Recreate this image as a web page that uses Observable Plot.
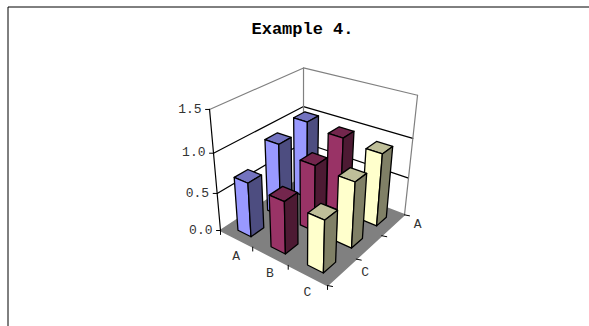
<!DOCTYPE html>
<html><head><meta charset="utf-8">
<script src="https://cdn.jsdelivr.net/npm/d3@7"></script>
<script src="https://cdn.jsdelivr.net/npm/@observablehq/plot@0.6"></script>
<style>html,body{margin:0;padding:0;background:#fff}svg{display:block}</style>
</head><body><div id="chart"></div>
<script>
const title = "Example 4.";
const series = ["A","B","C"];
const rows = ["A","B","C"];
const valuesA = [1.03,0.95,0.70];
const valuesB = [0.97,0.85,0.665];
const valuesC = [0.93,0.83,0.65];
const levels = [0,0.5,1,1.5];
const faceColors = [
  {front:"#9999ff",top:"#7373bf",side:"#4d4d80"},
  {front:"#993366",top:"#73264d",side:"#4d1a33"},
  {front:"#ffffcc",top:"#bfbf99",side:"#808066"}
];
const table = [valuesA,valuesB,valuesC];
const maxH = 1.5;

// perspective camera: (u along the front-left edge, v in depth, h value)
const cam = {a:61.7,b:133,c:220,d:15.5,e:-25.5,f:230,g:-0.1386,i:0.1651,p:-23.6,q:-89.2,r:-0.078};
function P(u,v,h,ox=0,oy=0){
  const w = cam.g*u+cam.i*v+1+cam.r*h;
  return {x:(cam.a*u+cam.b*v+cam.c+cam.p*h)/w+ox, y:(cam.d*u+cam.e*v+cam.f+cam.q*h)/w+oy};
}
function poly(id,fill,pts){return pts.map(p=>({...P(...p),id,fill}));}

const walls = [
  ...poly("floor","#808080",[[0,0,0],[1,0,0],[1,1,0],[0,1,0]]),
];
const grid = [];
levels.forEach((h,k)=>{
  const col = h===maxH ? "#808080" : "#000000";
  if(h===0) return;
  [[0,0,h],[0,1,h],[1,1,h]].forEach(p=>grid.push({...P(...p),id:"g"+k,col}));
});
[[0,1],[1,1]].forEach((c,k)=>{
  [[c[0],c[1],0],[c[0],c[1],maxH]].forEach(p=>grid.push({...P(...p),id:"e"+k,col:"#808080"}));
});
[[0,0,0],[0,0,maxH]].forEach(p=>grid.push({...P(...p),id:"axis",col:"#000000"}));

const ticks = [];
levels.forEach((h,k)=>{ticks.push({...P(0,0,h),id:"tl"+k},{...P(0,0,h,-4,0),id:"tl"+k});});
[0,1/3,2/3,1].forEach((t,k)=>{
  ticks.push({...P(t,0,0),id:"tb"+k},{...P(t,0,0,0,4),id:"tb"+k});
  ticks.push({...P(1,t,0),id:"tr"+k},{...P(1,t,0,5,1),id:"tr"+k});
});

const nearU = 0.072, nearV = 0.085, sizeU = 0.135, sizeV = 0.14;
const faces = [];
for(let r=0;r<3;r++){            // far row first
  const vc = 1-(r+0.5)/3;
  for(let s=0;s<3;s++){
    const uc = (s+0.5)/3, h = table[s][r], c = faceColors[s];
    const u1=uc+nearU,u0=u1-sizeU,v0=vc-nearV,v1=v0+sizeV, id=`b${r}${s}`;
    faces.push(...poly(id+"t",c.top,[[u0,v0,h],[u1,v0,h],[u1,v1,h],[u0,v1,h]]));
    faces.push(...poly(id+"f",c.front,[[u0,v0,0],[u1,v0,0],[u1,v0,h],[u0,v0,h]]));
    faces.push(...poly(id+"s",c.side,[[u1,v0,0],[u1,v1,0],[u1,v1,h],[u1,v0,h]]));
  }
}

const valueLabels = levels.map(h=>({...P(0,0,h,-8,-1),t:h.toFixed(1)}));
const serieLabels = series.map((s,k)=>({...P((k+0.5)/3,0,0,0,17),t:s}));
const rowLabels = [{t:rows[0],v:0.97},{t:rows[2],v:0.26}].map(d=>({...P(1,d.v,0,15,7),t:d.t}));
const frame = [{x:7.5,y:326},{x:7.5,y:6.5},{x:589,y:6.5}];
const mono = "'Liberation Mono','Courier New',monospace";

const chart = Plot.plot({
  width:589,height:326,margin:0,
  x:{domain:[0,589],range:[0,589],axis:null},
  y:{domain:[0,326],range:[0,326],axis:null},
  marks:[
    Plot.line(frame,{x:"x",y:"y",stroke:"#000",strokeWidth:1}),
    Plot.line(walls,{x:"x",y:"y",z:"id",fill:"fill",stroke:"#808080",curve:"linear-closed"}),
    Plot.line(grid,{x:"x",y:"y",z:"id",stroke:"col",strokeWidth:1.2}),
    Plot.line(ticks,{x:"x",y:"y",z:"id",stroke:"#000",strokeWidth:1}),
    Plot.line(faces,{x:"x",y:"y",z:"id",fill:"fill",stroke:"#000",strokeWidth:1.3,strokeLinejoin:"round",curve:"linear-closed"}),
    Plot.text(valueLabels,{x:"x",y:"y",text:"t",textAnchor:"end",fontFamily:mono,fontSize:13,fill:"#333"}),
    Plot.text(serieLabels,{x:"x",y:"y",text:"t",fontFamily:mono,fontSize:13,fill:"#333"}),
    Plot.text(rowLabels,{x:"x",y:"y",text:"t",fontFamily:mono,fontSize:13,fill:"#333"}),
    Plot.text([{x:302,y:28,t:title}],{x:"x",y:"y",text:"t",fontFamily:mono,fontWeight:"bold",fontSize:17,fill:"#000"})
  ]
});
document.getElementById("chart").append(chart);
</script></body></html>
